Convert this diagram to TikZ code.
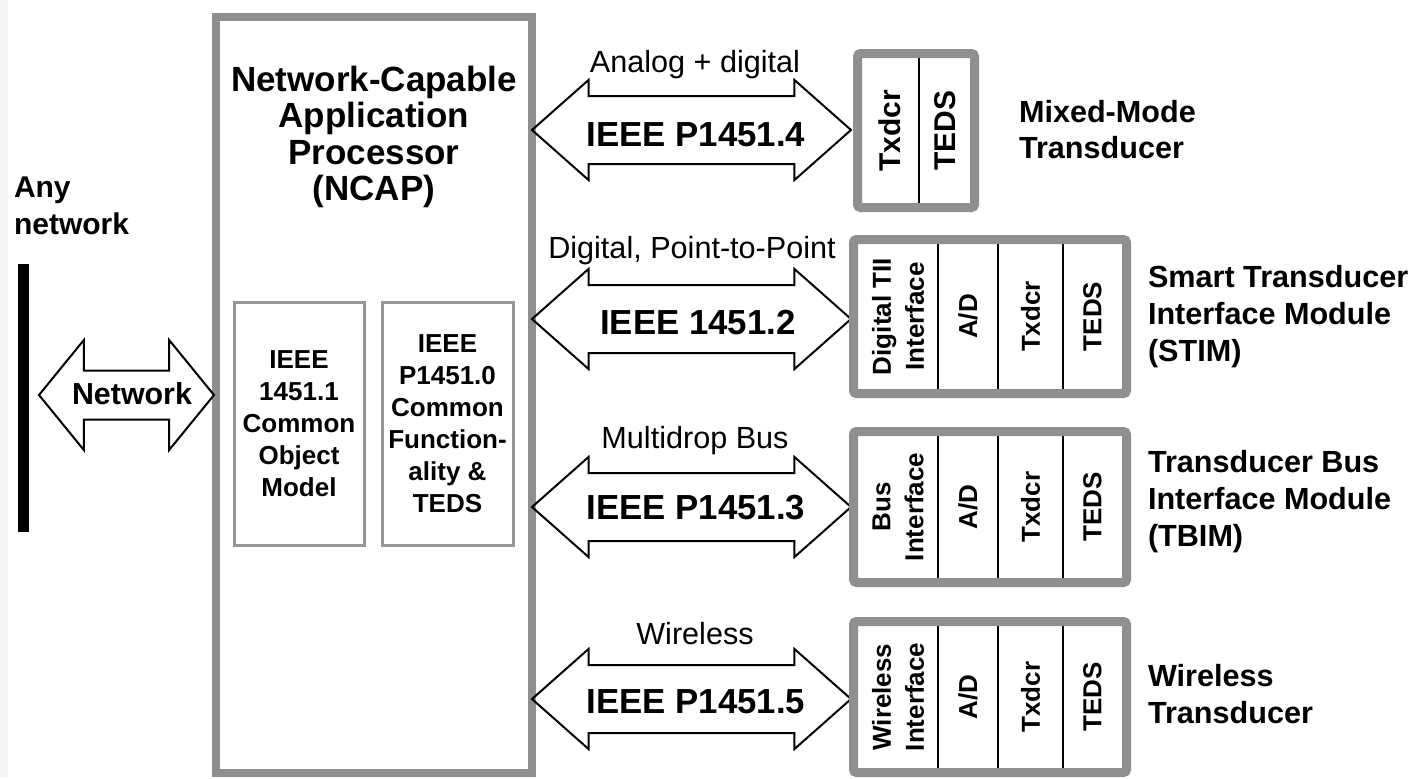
\documentclass[tikz,border=0pt]{standalone}
\usepackage{fontspec}
\setmainfont{Liberation Sans}
\usetikzlibrary{shapes.arrows,calc}
\definecolor{framegray}{RGB}{143,143,143}
\definecolor{boxgray}{RGB}{150,150,150}
\definecolor{stripgray}{RGB}{245,245,243}
\newcommand\fsz[2]{\fontsize{#1}{#2}\selectfont}
\begin{document}
\begin{tikzpicture}[x=0.5pt,y=-0.5pt,
  every node/.style={inner sep=0pt, outer sep=0pt},
  titletext/.style={font=\fsz{17.5pt}{18.3pt}\bfseries, align=center},
  subbox/.style={draw=boxgray, line width=1.5pt, minimum height=121.5pt,
    font=\fsz{13pt}{16pt}\bfseries, align=center},
  toplbl/.style={font=\fsz{15.3pt}{18pt}},
  biglbl/.style={font=\fsz{17.4pt}{20pt}\bfseries},
  coltext/.style={font=\fsz{13pt}{16.5pt}\bfseries, align=center, rotate=90},
  mmcol/.style={font=\fsz{15pt}{18pt}\bfseries, rotate=90},
  sidelbl/.style={font=\fsz{15.3pt}{18.3pt}\bfseries, align=left, anchor=west},
  tframe/.style={draw=framegray, line width=4.5pt, rounded corners=1.5pt,
    minimum width=136.5pt, minimum height=77pt},
  ncapframe/.style={draw=framegray, line width=4pt, minimum width=158pt, minimum height=378pt},
  divider/.style={draw=black, line width=0.8pt},
  busarrow/.style={double arrow, draw=black, line width=1pt, inner xsep=0pt,
    inner ysep=16.5pt, text height=0pt, text depth=0pt,
    double arrow head extend=8pt, double arrow tip angle=83,
    minimum height=159.5pt},
  netarrow/.style={double arrow, draw=black, line width=1pt, inner xsep=0pt,
    inner ysep=11.75pt, text height=0pt, text depth=0pt,
    double arrow head extend=15.25pt, double arrow tip angle=101.6,
    minimum height=87.5pt}
]
\useasboundingbox (0,0) rectangle (1418,778);
\fill[white] (0,0) rectangle (1418,778);
\fill[stripgray] (0,0) rectangle (8,778);

% Any network
\node[fill=black, minimum width=5.5pt, minimum height=134pt] (bar) at (23.5,398) {};
\node[sidelbl, font=\fsz{15pt}{18.5pt}\bfseries] (anynet) at (14,206) {Any\\network};

% NCAP
\node[ncapframe] (ncap) at (374,395) {};
\node[titletext] (ncaptitle) at (374,137) {Network-Capable\\Application\\Processor\\(NCAP)};
\node[subbox, minimum width=65pt] (p11) at (299,423.5) {IEEE\\1451.1\\Common\\Object\\Model};
\node[subbox, minimum width=65.5pt] (p10) at (447.5,423.5) {IEEE\\P1451.0\\Common\\Function-\\ality \&\\TEDS};

% Network arrow
\node[netarrow] (netarr) at (126.5,395) {};
\node[font=\fsz{15.2pt}{18pt}\bfseries] (netlbl) at (132,394) {Network};

% Bus arrows
\node[busarrow] (arr4) at (691.5,130) {};
\node[toplbl] (lbl4) at (695,65) {Analog + digital};
\node[biglbl] (std4) at (696,135) {IEEE P1451.4};

\node[busarrow] (arr2) at (691.5,319) {};
\node[toplbl] (lbl2) at (692,251) {Digital, Point-to-Point};
\node[biglbl] (std2) at (698,323) {IEEE 1451.2};

\node[busarrow] (arr3) at (691.5,507) {};
\node[toplbl] (lbl3) at (695,441) {Multidrop Bus};
\node[biglbl] (std3) at (696,508) {IEEE P1451.3};

\node[busarrow] (arr5) at (691.5,699) {};
\node[toplbl] (lbl5) at (695,633.5) {Wireless};
\node[biglbl] (std5) at (696,702) {IEEE P1451.5};

% Mixed-mode transducer
\draw[divider] (919,58) -- (919,203);
\node[tframe, minimum width=58.5pt] (mm) at (916,130.5) {};
\node[mmcol] (mmtx) at (890,130.5) {Txdcr};
\node[mmcol] (mmteds) at (945,130.5) {TEDS};
\node[sidelbl] (mmlbl) at (1019,129.5) {Mixed-Mode\\Transducer};

% STIM
\draw[divider] (938,244) -- (938,389);
\draw[divider] (998,244) -- (998,389);
\draw[divider] (1063,244) -- (1063,389);
\node[tframe] (stim) at (990,316.5) {};
\node[coltext] (stimif) at (898,316.5) {Digital TII\\Interface};
\node[coltext] (stimad) at (968,316.5) {A/D};
\node[coltext] (stimtx) at (1030.5,316.5) {Txdcr};
\node[coltext] (stimteds) at (1092.5,316.5) {TEDS};
\node[sidelbl] (stimlbl) at (1148,316.5) {Smart Transducer\\Interface Module\\(STIM)};

% TBIM
\draw[divider] (938,436) -- (938,578);
\draw[divider] (998,436) -- (998,578);
\draw[divider] (1063,436) -- (1063,578);
\node[tframe, minimum height=75.5pt] (tbim) at (990,507) {};
\node[coltext] (tbimif) at (898,507) {Bus\\Interface};
\node[coltext] (tbimad) at (968,507) {A/D};
\node[coltext] (tbimtx) at (1030.5,507) {Txdcr};
\node[coltext] (tbimteds) at (1092.5,507) {TEDS};
\node[sidelbl] (tbimlbl) at (1148,501.5) {Transducer Bus\\Interface Module\\(TBIM)};

% Wireless
\draw[divider] (938,626) -- (938,768);
\draw[divider] (998,626) -- (998,768);
\draw[divider] (1063,626) -- (1063,768);
\node[tframe, minimum height=75.5pt] (wl) at (990,697) {};
\node[coltext] (wlif) at (898,697) {Wireless\\Interface};
\node[coltext] (wlad) at (968,697) {A/D};
\node[coltext] (wltx) at (1030.5,697) {Txdcr};
\node[coltext] (wlteds) at (1092.5,697) {TEDS};
\node[sidelbl] (wllbl) at (1148,694) {Wireless\\Transducer};
\end{tikzpicture}
\end{document}
